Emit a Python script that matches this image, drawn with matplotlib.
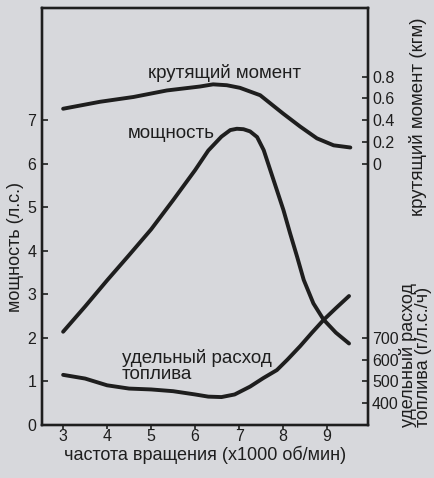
import matplotlib
matplotlib.use('Agg')
import matplotlib.pyplot as plt

matplotlib.rcParams['font.family'] = ['Liberation Sans', 'DejaVu Sans']

# power curve, hp vs rpm (x1000)
power_rpm = [3.0, 3.5, 4.0, 4.5, 5.0, 5.5, 6.0, 6.3, 6.6, 6.8, 6.95, 7.1, 7.25, 7.41,
             7.56, 7.71, 7.86, 8.01, 8.16, 8.32, 8.47, 8.69, 8.92, 9.2, 9.5]
power_hp = [2.14, 2.72, 3.32, 3.90, 4.49, 5.16, 5.85, 6.30, 6.62, 6.77, 6.80, 6.79,
            6.74, 6.61, 6.31, 5.85, 5.39, 4.93, 4.40, 3.86, 3.33, 2.79, 2.42, 2.12, 1.87]

# torque curve, kgm
torque_rpm = [3.0, 3.84, 4.6, 5.36, 6.11, 6.41, 6.72, 7.02, 7.48, 8.0, 8.39, 8.77, 9.15, 9.53]
torque_kgm = [0.504, 0.568, 0.612, 0.672, 0.708, 0.728, 0.72, 0.696, 0.628, 0.46,
              0.34, 0.232, 0.168, 0.148]

# specific fuel consumption, g/hp/h
fuel_rpm = [3.0, 3.5, 4.0, 4.5, 5.0, 5.5, 6.0, 6.3, 6.6, 6.9, 7.25, 7.55, 7.86,
            8.1, 8.39, 8.65, 8.92, 9.2, 9.5]
fuel_g = [530, 513, 482, 467, 463, 455, 440, 430, 428, 440, 476, 515, 552,
          600, 662, 722, 782, 836, 892]

x_ticks = [3, 4, 5, 6, 7, 8, 9]
power_ticks = [0, 1, 2, 3, 4, 5, 6, 7]
torque_ticks = [0, 0.2, 0.4, 0.6, 0.8]
torque_labels = ['0', '0.2', '0.4', '0.6', '0.8']
fuel_ticks = [400, 500, 600, 700]

BG = '#d7d8dc'
INK = '#1e1e1e'

fig = plt.figure(figsize=(4.34, 4.78), dpi=100, facecolor=BG)
ax = fig.add_axes([0.0968, 0.111, 0.751, 0.872])
ax.set_facecolor(BG)

# power axis 0..9.57; torque: p = 6 + 2.5*t ; fuel: p = (f - 300) / 200
YMAX = 9.57
ax.set_xlim(2.52, 9.93)
ax.set_ylim(0, YMAX)

ax_t = ax.twinx()
ax_t.set_ylim((0 - 6) / 2.5, (YMAX - 6) / 2.5)
ax_f = ax.twinx()
ax_f.set_ylim(300, 300 + 200 * YMAX)

lw = 2.8
ax.plot(power_rpm, power_hp, color=INK, lw=lw, solid_capstyle='round')
ax_t.plot(torque_rpm, torque_kgm, color=INK, lw=lw, solid_capstyle='round')
ax_f.plot(fuel_rpm, fuel_g, color=INK, lw=lw, solid_capstyle='round')

for a in (ax, ax_t, ax_f):
    for s in a.spines.values():
        s.set_color(INK)
        s.set_linewidth(1.6)

ax.set_xticks(x_ticks)
ax.set_yticks(power_ticks)
ax.tick_params(axis='x', direction='out', length=3, width=1.2, colors=INK,
               labelsize=11.5, pad=0)
ax.tick_params(axis='y', direction='in', length=4, width=1.2, colors=INK,
               labelsize=11.5, pad=4)

ax_t.set_yticks(torque_ticks)
ax_t.set_yticklabels(torque_labels)
ax_f.set_yticks(fuel_ticks)
for a in (ax_t, ax_f):
    a.tick_params(axis='y', direction='in', length=4, width=1.2, colors=INK,
                  labelsize=11.5, pad=3)

ax.set_xlabel('частота вращения (x1000 об/мин)', fontsize=13, color=INK, labelpad=1)

fig.text(0.036, 0.483, 'мощность (л.с.)', rotation=90, ha='center', va='center',
         fontsize=13, color=INK)
fig.text(0.962, 0.755, 'крутящий момент (кгм)', rotation=90, ha='center', va='center',
         fontsize=13.5, color=INK)
fig.text(0.957, 0.257, 'удельный расход\nтоплива (г/л.с./ч)', rotation=90,
         ha='center', va='center', fontsize=13, color=INK,
         multialignment='left', linespacing=0.82)

ax.text(6.66, 8.07, 'крутящий момент', ha='center', va='center', fontsize=13.5, color=INK)
ax.text(5.45, 6.70, 'мощность', ha='center', va='center', fontsize=13.5, color=INK)
ax.text(4.34, 1.35, 'удельный расход\nтоплива', ha='left', va='center', fontsize=13.5,
        color=INK, linespacing=0.95)

fig.savefig('out.png', dpi=100, facecolor=BG)
